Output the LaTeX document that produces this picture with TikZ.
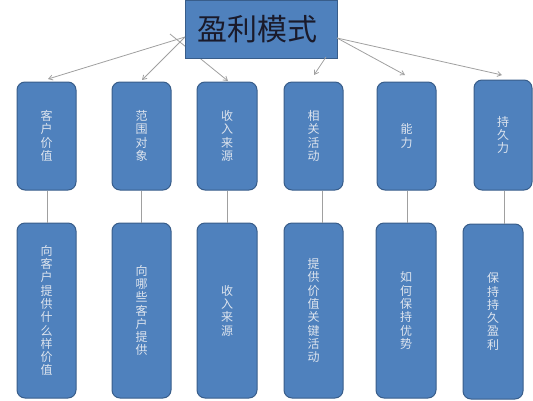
\documentclass[tikz,border=0pt]{standalone}
\usepackage{fontspec}
\newfontfamily\cjk{Noto Sans CJK SC}
\usetikzlibrary{arrows.meta}
\definecolor{boxfill}{HTML}{4F81BD}
\definecolor{boxborder}{HTML}{385D8A}
\definecolor{boxtext}{HTML}{DDE4EE}
\definecolor{linkgray}{HTML}{A0A0A0}
\definecolor{titletext}{HTML}{1A1A2A}
\tikzset{
  boxnode/.style={draw=boxborder, fill=boxfill, rounded corners=8pt, line width=1pt,
    inner sep=0pt, text=boxtext, align=center,
    font=\cjk\fontsize{12}{13.3}\selectfont},
  topbox/.style={boxnode, minimum width=59pt, minimum height=108pt},
  lowbox/.style={boxnode, minimum width=60pt, minimum height=175pt},
  titlebox/.style={draw=boxborder, fill=boxfill, line width=1pt, inner sep=0pt,
    minimum width=152pt, minimum height=58pt, text=titletext,
    font=\cjk\fontsize{30}{32}\selectfont},
  link/.style={draw=linkgray, line width=0.8pt},
  arrowlink/.style={link, -{Straight Barb[length=4pt,width=5pt]}}
}
\begin{document}
\begin{tikzpicture}[x=1pt,y=-1pt]
\useasboundingbox (0,0) rectangle (533,400);
% arrow starting behind the title box
\coordinate (s3) at (170,34);
\coordinate (s1) at (185,37);
\coordinate (s4) at (326,57);
\coordinate (s5) at (337,38);
\coordinate (e1) at (48,79);
\coordinate (e2) at (142,80);
\coordinate (e3) at (228,81);
\coordinate (e4) at (314,75);
\coordinate (e5) at (405,75);
\coordinate (e6) at (502,75);
\draw[arrowlink] (s3) -- (e3);
\node[titlebox] (title) at (261,29.5) {\hspace*{-8pt}\raisebox{-3pt}{盈利模式}};
\draw[arrowlink] (s1) -- (e1);
\draw[arrowlink] (s1) -- (e2);
\draw[arrowlink] (s4) -- (e4);
\draw[arrowlink] (s5) -- (e5);
\draw[arrowlink] (s5) -- (e6);
% top boxes
\node[topbox] (t1) at (46.5,136) {客\\户\\价\\值};
\node[topbox] (t2) at (141.5,136) {范\\围\\对\\象};
\node[topbox, minimum width=60pt] (t3) at (227,136) {收\\入\\来\\源};
\node[topbox] (t4) at (313.5,136) {相\\关\\活\\动};
\node[topbox] (t5) at (406.5,136) {能\\力};
\node[topbox, minimum width=58pt, minimum height=110pt] (t6) at (503,135) {持\\久\\力};
% lower boxes
\node[lowbox, minimum width=59pt] (b1) at (46.5,310.5) {向\\客\\户\\提\\供\\什\\么\\样\\价\\值};
\node[lowbox, minimum width=59pt] (b2) at (141.5,310.5) {向\\哪\\些\\客\\户\\提\\供};
\node[lowbox] (b3) at (227,310.5) {收\\入\\来\\源};
\node[lowbox, minimum width=59pt] (b4) at (313.5,310.5) {提\\供\\价\\值\\关\\键\\活\\动};
\node[lowbox] (b5) at (406,310.5) {如\\何\\保\\持\\优\\势};
\node[lowbox] (b6) at (493,311.5) {保\\持\\持\\久\\盈\\利};
% vertical connectors
\coordinate (v1) at (47,0);
\coordinate (v2) at (141,0);
\coordinate (v3) at (227,0);
\coordinate (v4) at (322,0);
\coordinate (v5) at (407,0);
\coordinate (v6) at (504,0);
\draw[link] (t1.south -| v1) -- (b1.north -| v1);
\draw[link] (t2.south -| v2) -- (b2.north -| v2);
\draw[link] (t3.south -| v3) -- (b3.north -| v3);
\draw[link] (t4.south -| v4) -- (b4.north -| v4);
\draw[link] (t5.south -| v5) -- (b5.north -| v5);
\draw[link] (t6.south -| v6) -- (b6.north -| v6);
\end{tikzpicture}
\end{document}
